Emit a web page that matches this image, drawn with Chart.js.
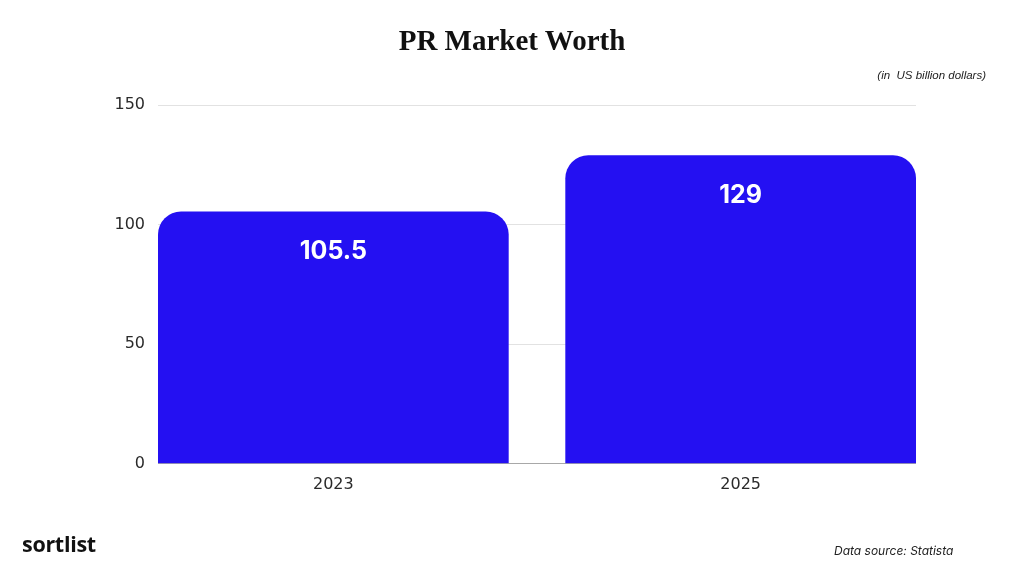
<!DOCTYPE html>
<html>
<head>
<meta charset="utf-8">
<script src="https://cdn.jsdelivr.net/npm/chart.js@4.4.1/dist/chart.umd.min.js"></script>
<style>
  html, body { margin: 0; padding: 0; background: #fff; }
  #wrap { position: relative; width: 1024px; height: 576px; overflow: hidden; }
  #chart_market { position: absolute; left: 0; top: 0; }
  .txt { position: absolute; white-space: nowrap; }
  #title { left: 0; width: 1024px; top: 24px; text-align: center; font: bold 29px "Liberation Serif", serif; color: #111; }
  #unit { right: 38px; top: 69px; font: italic 11.5px "Liberation Sans", Arial, sans-serif; color: #222; }
  #logo { left: 22px; top: 529px; font: bold 21.5px "Open Sans", sans-serif; color: #111; letter-spacing: -0.3px; }
  #source { left: 834px; top: 543px; font: italic 12px "Inter", sans-serif; color: #222; }
</style>
</head>
<body>
<div id="wrap">
  <canvas id="chart_market" width="1024" height="576"></canvas>
  <div class="txt" id="title">PR Market Worth</div>
  <div class="txt" id="unit">(in&nbsp; US billion dollars)</div>
  <div class="txt" id="logo">sortlist</div>
  <div class="txt" id="source">Data source: Statista</div>
</div>
<script>
// данные графика
var years = [2023, 2025];
var worth = [105.5, 129];
var yTicks = [0, 50, 100, 150];

var barPct = 0.861;

// подписи значений внутри столбцов
var barLabels = {
    id: 'barLabels',
    afterDatasetsDraw: function (chart) {
        var c = chart.ctx;
        var meta = chart.getDatasetMeta(0);
        c.save();
        c.fillStyle = '#fff';
        c.font = 'bold 25px Inter, sans-serif';
        c.textAlign = 'center';
        c.textBaseline = 'middle';
        meta.data.forEach(function (bar, i) {
            c.fillText(String(worth[i]), bar.x, bar.y + 40);
        });
        c.restore();
    }
};

var tickFont = { family: 'DejaVu Sans', size: 16 };

var ctx = document.getElementById('chart_market').getContext('2d');
var chart = new Chart(ctx, {
    type: 'bar',
    data: {
        datasets: [{
            data: years.map(function (y, i) { return { x: y, y: worth[i] }; }),
            backgroundColor: '#2410f2',
            borderRadius: 23,
            borderSkipped: 'start',
            categoryPercentage: 1,
            barPercentage: barPct
        }]
    },
    options: {
        responsive: false,
        animation: false,
        layout: { padding: { left: 0, right: 108, top: 105, bottom: 71 } },
        plugins: { legend: { display: false }, tooltip: { enabled: false } },
        scales: {
            x: {
                type: 'linear',
                offset: false,
                min: years[0] - barPct,
                max: years[years.length - 1] + barPct,
                afterBuildTicks: function (axis) {
                    axis.ticks = years.map(function (v) { return { value: v }; });
                },
                grid: { display: false, drawTicks: false },
                border: { display: false },
                ticks: {
                    padding: 11,
                    color: '#2a2a2a',
                    font: tickFont,
                    callback: function (v) { return String(v); }
                }
            },
            y: {
                min: 0,
                max: 150,
                afterBuildTicks: function (axis) {
                    axis.ticks = yTicks.map(function (v) { return { value: v }; });
                },
                afterFit: function (axis) { axis.width = 158; },
                grid: {
                    drawTicks: false,
                    color: function (c) { return c.tick && c.tick.value === 0 ? '#a8a8a8' : '#e2e2e2'; }
                },
                border: { display: false },
                ticks: {
                    padding: 13,
                    color: '#2a2a2a',
                    font: tickFont
                }
            }
        }
    },
    plugins: [barLabels]
});
</script>
</body>
</html>
